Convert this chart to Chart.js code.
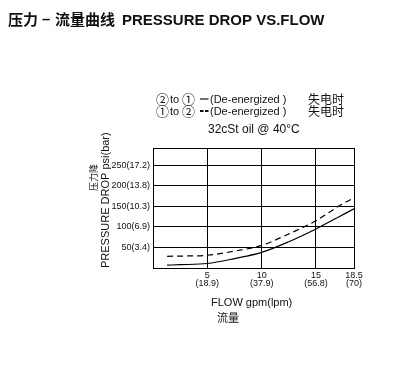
<!DOCTYPE html>
<html>
<head>
<meta charset="utf-8">
<script src="https://cdn.jsdelivr.net/npm/chart.js@4"></script>
<style>
html,body{margin:0;padding:0;background:#fff;}
#wrap{width:417px;height:365px;position:relative;}
</style>
</head>
<body>
<div id="wrap"><canvas id="c" width="417" height="365"></canvas></div>
<script>
// ---- data ----
const flowGpm = [1.3, 2.5, 5, 7.5, 10, 12.5, 15, 17, 18.5];
const dropDeenergized21 = [7, 8, 11, 23, 38, 64, 95, 123, 144];   // solid, 2 to 1
const dropDeenergized12 = [28.5, 29, 31, 41, 55, 83, 115, 149, 171]; // dashed, 1 to 2
const xTickValues = [0, 5, 10, 15, 18.5];
const xTickLabels = ['', '5', '10', '15', '18.5'];
const xTickSubLabels = ['', '(18.9)', '(37.9)', '(56.8)', '(70)'];
const yTickValues = [0, 50, 100, 150, 200, 250, 292];
const yTickLabels = ['', '50(3.4)', '100(6.9)', '150(10.3)', '200(13.8)', '250(17.2)', ''];

const toPts = (xs, ys) => xs.map((x, i) => ({x: x, y: ys[i]}));
const SANS = "'Liberation Sans', Arial, 'Noto Sans CJK SC', sans-serif";
const CJK = "'Noto Sans CJK SC', sans-serif";

const textPlugin = {
  id: 'texts',
  afterDraw(chart) {
    const ctx = chart.ctx;
    ctx.save();
    ctx.fillStyle = '#111';
    ctx.strokeStyle = '#111';
    ctx.textBaseline = 'alphabetic';
    ctx.textAlign = 'left';
    // title
    ctx.font = "bold 15px " + CJK;
    ctx.fillText('压力', 8, 25);
    ctx.fillText('流量曲线', 55, 25);
    ctx.font = "bold 15px " + SANS;
    ctx.fillText('–', 42, 24);
    ctx.fillText('PRESSURE DROP VS.FLOW', 122, 25);
    // legend
    const rows = [
      {a: '②', b: '①', y: 103, dashed: false},
      {a: '①', b: '②', y: 115, dashed: true}
    ];
    rows.forEach(r => {
      ctx.font = "13px " + CJK;
      ctx.fillText(r.a, 156, r.y + 1);
      ctx.fillText(r.b, 182, r.y + 1);
      ctx.font = "11px " + SANS;
      ctx.fillText('to', 170, r.y);
      ctx.fillText('(De-energized )', 210, r.y);
      ctx.font = "12px " + CJK;
      ctx.fillText('失电时', 308, r.y + 1);
      ctx.beginPath();
      ctx.lineWidth = r.dashed ? 2 : 1.2;
      if (r.dashed) {
        ctx.moveTo(200, r.y - 4); ctx.lineTo(203.5, r.y - 4);
        ctx.moveTo(205, r.y - 4); ctx.lineTo(208.5, r.y - 4);
      } else {
        ctx.moveTo(200, r.y - 4); ctx.lineTo(208.5, r.y - 4);
      }
      ctx.stroke();
    });
    ctx.font = "12px " + SANS;
    ctx.fillText('32cSt oil @ 40°C', 208, 133);
    // x title
    ctx.font = "11px " + SANS;
    ctx.fillText('FLOW gpm(lpm)', 211, 306);
    ctx.font = "11px " + CJK;
    ctx.fillText('流量', 217, 322);
    // y titles (rotated)
    ctx.save();
    ctx.translate(109, 268);
    ctx.rotate(-Math.PI / 2);
    ctx.font = "11px " + SANS;
    ctx.fillText('PRESSURE DROP psi(bar)', 0, 0);
    ctx.restore();
    ctx.save();
    ctx.translate(97, 191);
    ctx.rotate(-Math.PI / 2);
    ctx.font = "9px " + CJK;
    ctx.fillText('压力降', 0, 0);
    ctx.restore();
    ctx.restore();
  }
};

new Chart(document.getElementById('c'), {
  type: 'line',
  data: {
    datasets: [
      {
        label: '2 to 1',
        data: toPts(flowGpm, dropDeenergized21),
        borderColor: '#000',
        borderWidth: 1.2,
        pointRadius: 0,
        cubicInterpolationMode: 'monotone',
        fill: false
      },
      {
        label: '1 to 2',
        data: toPts(flowGpm, dropDeenergized12),
        borderColor: '#000',
        borderWidth: 1.2,
        borderDash: [6, 4],
        pointRadius: 0,
        cubicInterpolationMode: 'monotone',
        fill: false
      }
    ]
  },
  options: {
    responsive: false,
    animation: false,
    devicePixelRatio: 1,
    layout: { padding: { left: 93, right: 63, top: 148, bottom: 0 } },
    plugins: { legend: { display: false }, tooltip: { enabled: false }, title: { display: false } },
    scales: {
      x: {
        type: 'linear',
        min: 0,
        max: 18.5,
        afterBuildTicks: (s) => { s.ticks = xTickValues.map(v => ({value: v})); },
        afterFit: (s) => { s.height = 97; },
        grid: { color: '#000', lineWidth: 1, drawTicks: false },
        border: { display: true, color: '#000', width: 1 },
        ticks: {
          autoSkip: false,
          maxRotation: 0,
          padding: 3,
          color: '#111',
          font: { family: SANS, size: 9, lineHeight: 0.95 },
          callback: (v, i) => {
            const k = xTickValues.indexOf(v);
            if (k <= 0) return '';
            return [xTickLabels[k], xTickSubLabels[k]];
          }
        }
      },
      y: {
        type: 'linear',
        min: 0,
        max: 292,
        afterBuildTicks: (s) => { s.ticks = yTickValues.map(v => ({value: v})); },
        afterFit: (s) => { s.width = 60; },
        grid: { color: '#000', lineWidth: 1, drawTicks: false },
        border: { display: true, color: '#000', width: 1 },
        ticks: {
          autoSkip: false,
          padding: 3,
          color: '#111',
          font: { family: SANS, size: 9 },
          callback: (v) => {
            const k = yTickValues.indexOf(v);
            return k < 0 ? '' : yTickLabels[k];
          }
        }
      }
    }
  },
  plugins: [textPlugin]
});
</script>
</body>
</html>
